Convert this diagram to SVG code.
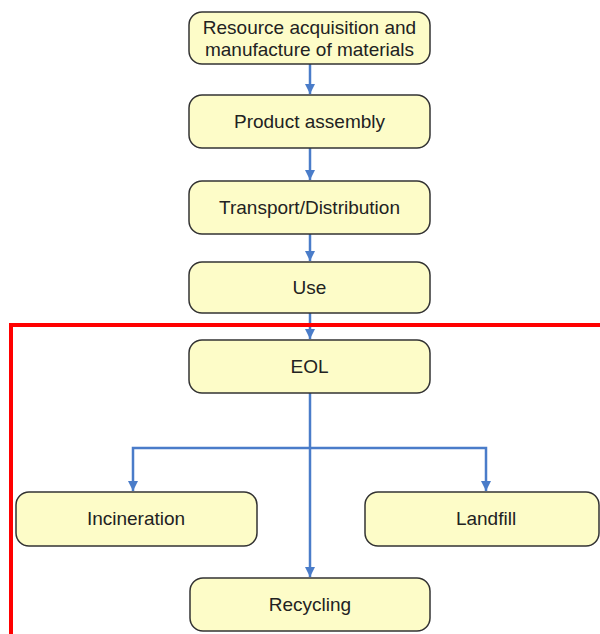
<svg xmlns="http://www.w3.org/2000/svg" width="600" height="634" viewBox="0 0 600 634">
<defs>
<style>
.box{fill:#fdfcc8;stroke:#333;stroke-width:1.5}
.lbl{font-family:"Liberation Sans",Arial,sans-serif;font-size:19px;fill:#222;text-anchor:middle;dominant-baseline:central}
.con{fill:none;stroke:#4a7cc9;stroke-width:2.5}
</style>
<marker id="ah" viewBox="0 0 10 10" refX="10" refY="5" markerWidth="4" markerHeight="4" orient="auto" markerUnits="strokeWidth">
<path d="M0,0 L10,5 L0,10 z" fill="#4a7cc9"/>
</marker>
</defs>
<rect width="600" height="634" fill="#fff"/>
<g id="connectors">
<path class="con" d="M310,64 V94" marker-end="url(#ah)"/>
<path class="con" d="M310,148 V180" marker-end="url(#ah)"/>
<path class="con" d="M310,234 V261" marker-end="url(#ah)"/>
<path class="con" d="M310,313 V339" marker-end="url(#ah)"/>
<path class="con" d="M310,393 V577" marker-end="url(#ah)"/>
<path class="con" d="M310,448 H133 V491" marker-end="url(#ah)"/>
<path class="con" d="M310,448 H486 V491" marker-end="url(#ah)"/>
</g>
<g id="boundary">
<path d="M600,325 H11 V634" fill="none" stroke="#f00" stroke-width="4"/>
</g>
<g id="n1"><rect class="box" x="189" y="12" width="241" height="52" rx="13"/><text class="lbl" x="309.5" y="27">Resource acquisition and</text><text class="lbl" x="309.5" y="49">manufacture of materials</text></g>
<g id="n2"><rect class="box" x="189" y="95" width="241" height="53" rx="13"/><text class="lbl" x="309.5" y="121">Product assembly</text></g>
<g id="n3"><rect class="box" x="189" y="181" width="241" height="53" rx="13"/><text class="lbl" x="309.5" y="207">Transport/Distribution</text></g>
<g id="n4"><rect class="box" x="189" y="262" width="241" height="51" rx="13"/><text class="lbl" x="309.5" y="287">Use</text></g>
<g id="n5"><rect class="box" x="189" y="340" width="241" height="53" rx="13"/><text class="lbl" x="309.5" y="366">EOL</text></g>
<g id="n6"><rect class="box" x="16" y="492" width="241" height="54" rx="13"/><text class="lbl" x="136" y="518">Incineration</text></g>
<g id="n7"><rect class="box" x="365" y="492" width="234" height="54" rx="13"/><text class="lbl" x="486" y="518">Landfill</text></g>
<g id="n8"><rect class="box" x="190" y="578" width="240" height="53" rx="13"/><text class="lbl" x="310" y="604">Recycling</text></g>
</svg>
